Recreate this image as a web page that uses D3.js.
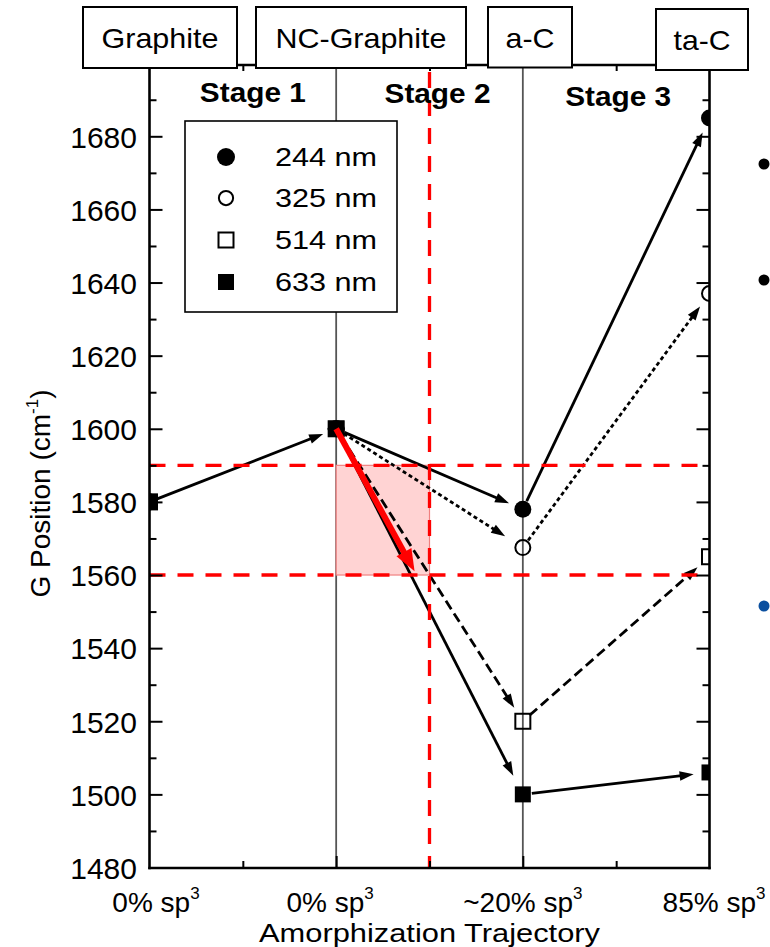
<!DOCTYPE html>
<html>
<head>
<meta charset="utf-8">
<script src="https://cdn.jsdelivr.net/npm/d3@7"></script>
<style>
  html, body { margin: 0; padding: 0; background: #ffffff; }
  svg { display: block; }
  text { font-family: "Liberation Sans", Arial, Helvetica, sans-serif; fill: #000; }
</style>
</head>
<body>
<svg id="chart" width="770" height="947"></svg>
<script>
// ---------------- data ----------------
const categories   = ["Graphite", "NC-Graphite", "a-C", "ta-C"];
const xTickMain    = ["0% sp", "0% sp", "~20% sp", "85% sp"];
const xTickSup     = "3";
const stages       = ["Stage 1", "Stage 2", "Stage 3"];
const seriesNames  = ["244 nm", "325 nm", "514 nm", "633 nm"];
const g244 = [1580, 1600, 1578, 1685];
const g325 = [1580, 1600, 1567.5, 1637];
const g514 = [1580, 1600, 1520, 1565];
const g633 = [1580, 1600, 1500, 1506];
const yMajorTicks = [1480, 1500, 1520, 1540, 1560, 1580, 1600, 1620, 1640, 1660, 1680];
const yMinorTicks = [1490, 1510, 1530, 1550, 1570, 1590, 1610, 1630, 1650, 1670, 1690];
const xMinorTicks = [0.5, 1.5, 2.5];
const guideYValues = [1590, 1560];
const guideXValue  = 1.5;
const shadeX = [1, 1.5];
const shadeY = [1560, 1590];
const redArrowFrom = [1, 1600];
const redArrowTo   = [1.42, 1561];
const yTitle = "G Position (cm";
const yTitleSup = "-1";
const xTitle = "Amorphization Trajectory";

// ---------------- layout / style ----------------
const plotLeft = 149.5, plotRight = 709.5, plotTop = 65, plotBottom = 868;
const svg = d3.select("#chart");
const x = d3.scaleLinear().domain([0, 3]).range([plotLeft, plotRight]);
const y = d3.scaleLinear().domain([1480, 1680]).range([867.5, 136.3]);

const series = [
  { name: seriesNames[0], values: g244, shape: "circle", fill: true,  r: 8.5, dash: null,   gap2: 15, gap3: 16 },
  { name: seriesNames[1], values: g325, shape: "circle", fill: false, r: 7.5, dash: "4,3",  gap2: 21, gap3: 16 },
  { name: seriesNames[2], values: g514, shape: "square", fill: false, r: 7.5, dash: "10,5", gap2: 16, gap3: 16 },
  { name: seriesNames[3], values: g633, shape: "square", fill: true,  r: 8,   dash: null,   gap2: 21, gap3: 16 }
];

svg.append("defs").append("clipPath").attr("id", "plotClip")
  .append("rect").attr("x", plotLeft).attr("y", plotTop)
  .attr("width", plotRight - plotLeft).attr("height", plotBottom - plotTop);

// grey category verticals
svg.append("g").selectAll("line").data([1, 2]).join("line")
  .attr("x1", d => x(d)).attr("x2", d => x(d))
  .attr("y1", plotTop).attr("y2", plotBottom)
  .attr("stroke", "#555").attr("stroke-width", 1.8);

// shaded region
svg.append("rect")
  .attr("x", x(shadeX[0])).attr("y", y(shadeY[1]))
  .attr("width", x(shadeX[1]) - x(shadeX[0]))
  .attr("height", y(shadeY[0]) - y(shadeY[1]))
  .attr("fill", "#ffd3d3").attr("stroke", "#f08080").attr("stroke-width", 1.2);

function arrow(g, x1, y1, x2, y2, o) {
  const dx = x2 - x1, dy = y2 - y1, L = Math.hypot(dx, dy);
  const ux = dx / L, uy = dy / L, px = -uy, py = ux;
  const sx = x1 + ux * o.startGap, sy = y1 + uy * o.startGap;
  const tx = x2 - ux * o.endGap, ty = y2 - uy * o.endGap;
  const bx = tx - ux * o.head, by = ty - uy * o.head;
  const ln = g.append("line")
    .attr("x1", sx).attr("y1", sy)
    .attr("x2", bx + ux * 2).attr("y2", by + uy * 2)
    .attr("stroke", o.color).attr("stroke-width", o.width);
  if (o.dash) ln.attr("stroke-dasharray", o.dash);
  g.append("path")
    .attr("d", `M${tx},${ty}L${bx + px * o.half},${by + py * o.half}L${bx - px * o.half},${by - py * o.half}Z`)
    .attr("fill", o.color);
}

const arrows = svg.append("g");
arrow(arrows, x(0), y(g244[0]), x(1), y(g244[1]),
  { startGap: 0, endGap: 14, head: 14, half: 4.8, width: 2.8, color: "#000", dash: null });
series.forEach(s => {
  arrow(arrows, x(1), y(s.values[1]), x(2), y(s.values[2]),
    { startGap: 9, endGap: s.gap2, head: 14, half: 4.8, width: 2.8, color: "#000", dash: s.dash });
  arrow(arrows, x(2), y(s.values[2]), x(3), y(s.values[3]),
    { startGap: 9, endGap: s.gap3, head: 14, half: 4.8, width: 2.8, color: "#000", dash: s.dash });
});

function drawMarker(g, s, cx, cy, scaleR) {
  const r = s.r * (scaleR || 1);
  if (s.shape === "circle") {
    g.append("circle").attr("cx", cx).attr("cy", cy).attr("r", r)
      .attr("fill", s.fill ? "#000" : "none")
      .attr("stroke", "#000").attr("stroke-width", s.fill ? 0 : 2);
  } else {
    g.append("rect").attr("x", cx - r).attr("y", cy - r).attr("width", 2 * r).attr("height", 2 * r)
      .attr("fill", s.fill ? "#000" : "none")
      .attr("stroke", "#000").attr("stroke-width", s.fill ? 0 : 2);
  }
}
const markers = svg.append("g").attr("clip-path", "url(#plotClip)");
series.forEach(s => {
  s.values.forEach((v, i) => drawMarker(markers, s, x(i), y(v)));
});

// red guide lines
const guides = svg.append("g").attr("stroke", "#ff0000").attr("stroke-width", 3.3)
  .attr("stroke-dasharray", "16,12");
guides.selectAll("line.h").data(guideYValues).join("line")
  .attr("class", "h")
  .attr("x1", x(0)).attr("x2", x(2.95))
  .attr("y1", d => y(d)).attr("y2", d => y(d));
guides.append("line")
  .attr("x1", x(guideXValue)).attr("x2", x(guideXValue))
  .attr("y1", 72).attr("y2", plotBottom);

// red thick arrow
arrow(svg.append("g"), x(redArrowFrom[0]), y(redArrowFrom[1]), x(redArrowTo[0]), y(redArrowTo[1]),
  { startGap: 0, endGap: 0, head: 22, half: 8.5, width: 6, color: "#ff0000", dash: null });

// ---------------- axes ----------------
const axisG = svg.append("g");
function styleTicks(sel) {
  sel.select(".domain").remove();
  sel.selectAll(".tick line").attr("stroke", "#000").attr("stroke-width", 2);
}
const left = axisG.append("g").attr("transform", `translate(${plotLeft},0)`)
  .call(d3.axisLeft(y).tickValues(yMajorTicks).tickSize(-13).tickPadding(12.5).tickFormat(d3.format("d")));
styleTicks(left);
left.selectAll(".tick text").attr("font-size", 30).attr("dy", "0.36em")
  .attr("font-family", "Liberation Sans, Arial, sans-serif").attr("fill", "#000");
styleTicks(axisG.append("g").attr("transform", `translate(${plotLeft},0)`)
  .call(d3.axisLeft(y).tickValues(yMinorTicks).tickSize(-7).tickFormat("")));
styleTicks(axisG.append("g").attr("transform", `translate(${plotRight},0)`)
  .call(d3.axisRight(y).tickValues(yMajorTicks).tickSize(-13).tickFormat("")));
styleTicks(axisG.append("g").attr("transform", `translate(${plotRight},0)`)
  .call(d3.axisRight(y).tickValues(yMinorTicks).tickSize(-7).tickFormat("")));
styleTicks(axisG.append("g").attr("transform", `translate(0,${plotBottom})`)
  .call(d3.axisBottom(x).tickValues([1, 2]).tickSize(-12).tickFormat("")));
styleTicks(axisG.append("g").attr("transform", `translate(0,${plotBottom})`)
  .call(d3.axisBottom(x).tickValues(xMinorTicks).tickSize(-7).tickFormat("")));
styleTicks(axisG.append("g").attr("transform", `translate(0,${plotTop})`)
  .call(d3.axisTop(x).tickValues(xMinorTicks).tickSize(-6).tickFormat("")));

// frame lines
axisG.append("line").attr("x1", plotLeft).attr("x2", plotLeft).attr("y1", plotTop).attr("y2", plotBottom + 1.2)
  .attr("stroke", "#000").attr("stroke-width", 2.6);
axisG.append("line").attr("x1", plotRight).attr("x2", plotRight).attr("y1", plotTop).attr("y2", plotBottom + 1.2)
  .attr("stroke", "#000").attr("stroke-width", 2.6);
axisG.append("line").attr("x1", plotLeft - 1.2).attr("x2", plotRight + 1.2).attr("y1", plotBottom).attr("y2", plotBottom)
  .attr("stroke", "#000").attr("stroke-width", 2.6);
axisG.append("line").attr("x1", plotLeft - 1.2).attr("x2", plotRight + 1.2).attr("y1", plotTop).attr("y2", plotTop)
  .attr("stroke", "#000").attr("stroke-width", 2.7);

// x tick labels with superscript
const xLabelOffset = [6.5, -6, 0, 4.5];
const xl = svg.append("g").selectAll("text").data(xTickMain).join("text")
  .attr("x", (d, i) => x(i) + xLabelOffset[i]).attr("y", 911.7)
  .attr("text-anchor", "middle").attr("font-size", 28);
xl.append("tspan").text(d => d);
xl.append("tspan").attr("font-size", 17).attr("dy", -13).text(xTickSup);

// x axis title
svg.append("text").attr("x", x(1.5)).attr("y", 941.7).attr("text-anchor", "middle")
  .attr("font-size", 26).attr("textLength", 341).attr("lengthAdjust", "spacingAndGlyphs")
  .text(xTitle);

// y axis title
const yt = svg.append("text").attr("transform", `translate(50,${y(1582.3)}) rotate(-90)`)
  .attr("text-anchor", "middle").attr("font-size", 28);
yt.append("tspan").text(yTitle);
yt.append("tspan").attr("font-size", 17).attr("dy", -12).text(yTitleSup);
yt.append("tspan").attr("dy", 12).text(")");

// ---------------- top phase boxes ----------------
const boxLayout = [
  { x0: 83,  x1: 237, y0: 7, y1: 68, tw: 117 },
  { x0: 256, x1: 466, y0: 7, y1: 68, tw: 171 },
  { x0: 488, x1: 572, y0: 7, y1: 67.5, tw: 49 },
  { x0: 656, x1: 748, y0: 9, y1: 70, tw: 57 }
];
const boxes = svg.append("g").selectAll("g").data(categories).join("g");
boxes.append("rect")
  .attr("x", (d, i) => boxLayout[i].x0).attr("y", (d, i) => boxLayout[i].y0)
  .attr("width", (d, i) => boxLayout[i].x1 - boxLayout[i].x0)
  .attr("height", (d, i) => boxLayout[i].y1 - boxLayout[i].y0)
  .attr("fill", "#fff").attr("stroke", "#000").attr("stroke-width", 2);
boxes.append("text")
  .attr("x", (d, i) => (boxLayout[i].x0 + boxLayout[i].x1) / 2)
  .attr("y", (d, i) => boxLayout[i].y1 - 20)
  .attr("text-anchor", "middle").attr("font-size", 28)
  .attr("textLength", (d, i) => boxLayout[i].tw).attr("lengthAdjust", "spacingAndGlyphs")
  .text(d => d);

// stage labels
const stageOffset = [10, 8, 2];
const stageBase = [102, 103, 106];
svg.append("g").selectAll("text").data(stages).join("text")
  .attr("x", (d, i) => x(i + 0.5) + stageOffset[i]).attr("y", (d, i) => stageBase[i])
  .attr("text-anchor", "middle").attr("font-size", 27).attr("font-weight", "bold")
  .attr("textLength", 106).attr("lengthAdjust", "spacingAndGlyphs")
  .text(d => d);

// ---------------- legend ----------------
const leg = svg.append("g");
leg.append("rect").attr("x", 185).attr("y", 121).attr("width", 212).attr("height", 191)
  .attr("fill", "#fff").attr("stroke", "#000").attr("stroke-width", 1.6);
const legRows = [157, 198, 240, 282];
const legendMarkerR = [1.06, 0.95, 1.0, 1.0];
series.forEach((s, i) => {
  drawMarker(leg, s, 226, legRows[i], legendMarkerR[i]);
  leg.append("text").attr("x", 275).attr("y", legRows[i] + 9)
    .attr("font-size", 25).attr("textLength", 102).attr("lengthAdjust", "spacingAndGlyphs")
    .text(s.name);
});

// ---------------- slide bullets at right edge ----------------
const bullets = [{ cy: 164, c: "#000" }, { cy: 280, c: "#000" }, { cy: 606, c: "#0a4f9f" }];
svg.append("g").selectAll("circle").data(bullets).join("circle")
  .attr("cx", 764).attr("cy", d => d.cy).attr("r", 5.5).attr("fill", d => d.c);
</script>
</body>
</html>
